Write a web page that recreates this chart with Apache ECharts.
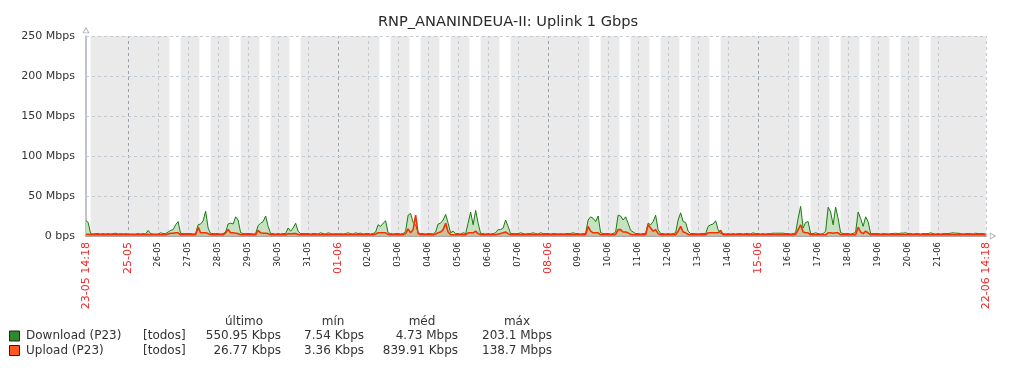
<!DOCTYPE html>
<html>
<head>
<meta charset="utf-8">
<script src="https://cdn.jsdelivr.net/npm/echarts@6/dist/echarts.min.js"></script>
<style>
html,body{margin:0;padding:0;background:#fff;}
#chart{width:1016px;height:368px;}
</style>
</head>
<body>
<div id="chart"></div>
<script>
// ---------- DATA ----------
const chartTitle = 'RNP_ANANINDEUA-II: Uplink 1 Gbps';
// day labels, one per calendar day from 23-05 to 22-06 (x unit = hours since 23-05 00:00)
const days = ['23-05','24-05','25-05','26-05','27-05','28-05','29-05','30-05','31-05',
  '01-06','02-06','03-06','04-06','05-06','06-06','07-06','08-06','09-06','10-06',
  '11-06','12-06','13-06','14-06','15-06','16-06','17-06','18-06','19-06','20-06',
  '21-06','22-06'];
const weekendDays = ['24-05','25-05','31-05','01-06','07-06','08-06','14-06','15-06','21-06','22-06'];
const redDays = ['25-05','01-06','08-06','15-06','22-06'];
const unlabeledDays = ['23-05','24-05','22-06'];
const startLabel = '23-05 14:18';
const endLabel = '22-06 14:18';
const startHour = 14.3;          // 23-05 14:18
const endHour = 30 * 24 + 14.3;  // 22-06 14:18
const workHours = [9, 18];
const yTicks = [0, 50, 100, 150, 200, 250];

// 2-hour samples (Mbps) starting 23-05 14:00
const downloadMbps = [
  19, 17, 3, 2.5, 3,                                   // 23-05 (14h..22h)
  3, 2.5, 3, 2.5, 3, 2.5, 3, 3.5, 2.5, 3, 2.5, 3,      // 24-05
  2.5, 2.5, 2.5, 2.5, 3, 2.5, 3, 2.5, 7, 3, 2.5, 2.5,  // 25-05
  2.5, 4, 3, 3, 5, 7, 8, 14, 18, 3, 3, 3,              // 26-05
  3, 3, 2.5, 3, 14, 15, 19, 31, 10, 3, 3, 3,           // 27-05
  3, 2.5, 3, 5, 15, 16, 15, 24, 20, 4, 3, 3,           // 28-05
  3, 3, 2.5, 3, 13, 16, 18, 25, 12, 3, 3, 2.5,         // 29-05
  3, 2.5, 3, 3, 10, 6, 10, 16, 6, 3, 3, 3,             // 30-05
  3, 2.5, 3, 3, 2.5, 4, 3, 2.5, 4, 3, 2.5, 3,          // 31-05
  2.5, 3, 2.5, 3, 4, 3, 2.5, 4, 3, 3.5, 2.5, 3,        // 01-06
  3, 2.5, 3, 5, 14, 12, 16, 19, 4, 3, 2.5, 3,          // 02-06
  3, 2.5, 3, 6, 26, 28, 17, 14, 4, 3, 3, 2.5,          // 03-06
  3, 3, 2.5, 5, 15, 16, 20, 27, 16, 4, 6, 3,           // 04-06
  3, 2.5, 4, 3, 16, 30, 14, 32, 16, 3, 3, 2.5,         // 05-06
  3, 2.5, 3, 4, 8, 8, 10, 20, 12, 3, 3, 3,             // 06-06
  3, 4, 3, 2.5, 3, 3, 4, 3, 2.5, 4, 3, 3,              // 07-06
  3, 2.5, 3, 3, 2.5, 3, 2.5, 3, 3, 3, 4, 3,            // 08-06
  3, 2.5, 3, 3, 20, 24, 22, 18, 25, 4, 3, 3,           // 09-06
  3, 2.5, 3, 5, 26, 25, 20, 24, 16, 7, 5, 3,           // 10-06
  3, 2.5, 3, 3, 16, 14, 18, 26, 8, 3, 3, 2.5,          // 11-06
  3, 2.5, 3, 4, 20, 29, 18, 17, 6, 3, 3, 3,            // 12-06
  2.5, 3, 3, 3, 12, 14, 15, 19, 8, 3, 3, 2.5,          // 13-06
  3, 2.5, 3, 2.5, 3, 3, 2.5, 3, 3, 2.5, 4, 3,          // 14-06
  3, 2.5, 3, 2.5, 3, 3, 3.5, 3.5, 3.5, 3.5, 3.5, 3,    // 15-06
  3, 2.5, 3, 4, 22, 37, 10, 17, 18, 3, 3, 4,           // 16-06
  3, 2.5, 3, 6, 36, 30, 14, 36, 22, 4, 3, 3,           // 17-06
  3, 2.5, 3, 5, 30, 22, 12, 24, 18, 3, 3, 3,           // 18-06
  3, 2.5, 3, 3, 2.5, 3, 3, 3.5, 3, 3.5, 3.5, 4,        // 19-06
  3, 3, 2.5, 3, 3, 2.5, 3, 3, 3, 4, 3, 2.5,            // 20-06
  3, 2.5, 3, 3, 3, 3.5, 4, 3.5, 3.5, 3, 2.5, 3,        // 21-06
  3, 3, 2.5, 3.5, 3, 3, 3, 2.5                         // 22-06 (0h..14h)
];
const uploadMbps = [
  2, 2, 1.5, 1.5, 1.5,                                             // 23-05
  1.5, 1.5, 1.5, 1.5, 1.5, 1.5, 1.5, 1.5, 1.5, 1.5, 1.5, 1.5,      // 24-05
  1.5, 1.5, 1.5, 1.5, 1.5, 1.5, 1.5, 1.5, 2, 1.5, 1.5, 1.5,        // 25-05
  1.5, 1.5, 1.5, 1.5, 2.5, 3.5, 3.5, 4, 4, 1.5, 1.5, 1.5,          // 26-05
  1.5, 1.5, 1.5, 1.5, 11, 4, 4, 4, 3, 1.5, 1.5, 1.5,               // 27-05
  1.5, 1.5, 1.5, 4, 8, 4, 4, 3.5, 3, 1.5, 1.5, 1.5,                // 28-05
  1.5, 1.5, 1.5, 1.5, 7, 4, 3.5, 3.5, 3, 1.5, 1.5, 1.5,            // 29-05
  1.5, 1.5, 1.5, 1.5, 3, 2.5, 3, 3, 2, 1.5, 1.5, 1.5,              // 30-05
  1.5, 1.5, 1.5, 1.5, 1.5, 1.5, 1.5, 1.5, 1.5, 1.5, 1.5, 1.5,      // 31-05
  1.5, 1.5, 1.5, 1.5, 1.5, 1.5, 1.5, 1.5, 1.5, 1.5, 1.5, 1.5,      // 01-06
  1.5, 1.5, 1.5, 2.5, 4, 4, 4, 4, 2, 1.5, 1.5, 1.5,                // 02-06
  1.5, 1.5, 1.5, 3, 9, 4, 8, 26, 3, 1.5, 1.5, 1.5,                 // 03-06
  1.5, 1.5, 1.5, 2.5, 4, 5, 8, 16, 5, 1.5, 1.5, 1.5,               // 04-06
  1.5, 1.5, 1.5, 1.5, 4, 4, 4, 6, 3, 1.5, 1.5, 1.5,                // 05-06
  1.5, 1.5, 1.5, 1.5, 2.5, 3, 4, 5, 3, 1.5, 1.5, 1.5,              // 06-06
  1.5, 1.5, 1.5, 1.5, 1.5, 1.5, 1.5, 1.5, 1.5, 1.5, 1.5, 1.5,      // 07-06
  1.5, 1.5, 1.5, 1.5, 1.5, 1.5, 1.5, 1.5, 1.5, 1.5, 1.5, 1.5,      // 08-06
  1.5, 1.5, 1.5, 1.5, 12, 6, 4, 4, 4, 1.5, 1.5, 1.5,               // 09-06
  1.5, 1.5, 1.5, 2, 8, 8, 5, 5, 4, 2, 1.5, 1.5,                    // 10-06
  1.5, 1.5, 1.5, 1.5, 14, 10, 6, 8, 3, 1.5, 1.5, 1.5,              // 11-06
  1.5, 1.5, 1.5, 1.5, 6, 12, 5, 4, 2, 1.5, 1.5, 1.5,               // 12-06
  1.5, 1.5, 1.5, 1.5, 4, 4, 4, 4, 4, 7, 1.5, 1.5,                  // 13-06
  1.5, 1.5, 1.5, 1.5, 1.5, 1.5, 1.5, 1.5, 1.5, 1.5, 1.5, 1.5,      // 14-06
  1.5, 1.5, 1.5, 1.5, 1.5, 1.5, 1.5, 1.5, 1.5, 1.5, 1.5, 1.5,      // 15-06
  1.5, 1.5, 1.5, 2, 8, 14, 5, 4, 4, 1.5, 1.5, 1.5,                 // 16-06
  1.5, 1.5, 1.5, 1.5, 4, 4, 3.5, 4, 4, 1.5, 1.5, 1.5,              // 17-06
  1.5, 1.5, 1.5, 1.5, 11, 5, 3, 6, 4, 1.5, 1.5, 1.5,               // 18-06
  1.5, 1.5, 1.5, 1.5, 1.5, 1.5, 1.5, 1.5, 1.5, 1.5, 1.5, 1.5,      // 19-06
  1.5, 1.5, 1.5, 1.5, 1.5, 1.5, 1.5, 1.5, 1.5, 1.5, 1.5, 1.5,      // 20-06
  1.5, 1.5, 1.5, 1.5, 1.5, 1.5, 1.5, 1.5, 1.5, 1.5, 1.5, 1.5,      // 21-06
  1.5, 1.5, 1.5, 1.5, 1.5, 1.5, 1.5, 1.5                           // 22-06
];
const sampleStartHour = 14;
const sampleStepHours = 2;

// legend table
const legendNames = ['Download (P23)', 'Upload (P23)'];
const legendScope = ['[todos]', '[todos]'];
const legendHeaders = ['último', 'mín', 'méd', 'máx'];
const legendLast = ['550.95 Kbps', '26.77 Kbps'];
const legendMin = ['7.54 Kbps', '3.36 Kbps'];
const legendAvg = ['4.73 Mbps', '839.91 Kbps'];
const legendMax = ['203.1 Mbps', '138.7 Mbps'];

// ---------- STYLE ----------
const FONT = 'DejaVu Sans';
const downColor = '#1a7c11';
const upColor = '#f63100';
const legendSwatch = ['#2e8a2c', '#ff5722'];
const gridColor = '#c3cad1';
const gridStrong = '#98a3ad';

// ---------- BUILD ----------
function toPoints(arr) {
  return arr.map((v, i) => {
    let x = sampleStartHour + i * sampleStepHours;
    x = Math.min(Math.max(x, startHour), endHour);
    return [x, v];
  });
}

// non-working (gray) periods
const workPeriods = [];
days.forEach((d, k) => {
  if (weekendDays.indexOf(d) >= 0) return;
  let s = k * 24 + workHours[0], e = k * 24 + workHours[1];
  s = Math.max(s, startHour); e = Math.min(e, endHour);
  if (e > s) workPeriods.push([s, e]);
});
const grayAreas = [];
let cur = startHour;
workPeriods.forEach(([s, e]) => {
  if (s > cur) grayAreas.push([{ xAxis: cur }, { xAxis: s }]);
  cur = e;
});
if (cur < endHour) grayAreas.push([{ xAxis: cur }, { xAxis: endHour }]);

// grid lines
const gridLines = [];
days.forEach((d, k) => {
  if (unlabeledDays.indexOf(d) >= 0) return;
  gridLines.push({ xAxis: k * 24, lineStyle: { color: redDays.indexOf(d) >= 0 ? gridStrong : gridColor } });
});
gridLines.push({ xAxis: endHour });
yTicks.forEach(v => { if (v > 0) gridLines.push({ yAxis: v }); });

const labelValues = [startHour];
days.forEach((d, k) => { if (unlabeledDays.indexOf(d) < 0) labelValues.push(k * 24); });
labelValues.push(endHour);

const arrowPath = 'path://M5,0 L10,9 L0,9 Z M5,2.6 L1.9,8 L8.1,8 Z';

const chart = echarts.init(document.getElementById('chart'), null, { renderer: 'canvas' });

const legendGraphics = [];
const hdrX = [244, 333, 422, 517];
const colRight = [281, 364, 458, 552];
legendHeaders.forEach((h, i) => legendGraphics.push({
  type: 'text', x: hdrX[i], y: 322,
  style: { text: h, fill: '#333', font: '12px "' + FONT + '"', align: 'center', verticalAlign: 'middle' }
}));
legendNames.forEach((n, r) => {
  const y = 336 + r * 14.5;
  legendGraphics.push({ type: 'rect', shape: { x: 9.5, y: y - 5, width: 10, height: 10 },
    style: { fill: legendSwatch[r], stroke: '#222', lineWidth: 1 } });
  legendGraphics.push({ type: 'text', x: 26, y: y,
    style: { text: n, fill: '#333', font: '12px "' + FONT + '"', verticalAlign: 'middle' } });
  legendGraphics.push({ type: 'text', x: 143, y: y,
    style: { text: legendScope[r], fill: '#333', font: '12px "' + FONT + '"', verticalAlign: 'middle' } });
  [legendLast, legendMin, legendAvg, legendMax].forEach((col, c) => legendGraphics.push({
    type: 'text', x: colRight[c], y: y,
    style: { text: col[r], fill: '#333', font: '12px "' + FONT + '"', align: 'right', verticalAlign: 'middle' }
  }));
});

chart.setOption({
  animation: false,
  backgroundColor: '#ffffff',
  textStyle: { fontFamily: FONT },
  title: {
    text: chartTitle, left: 'center', top: 10,
    textStyle: { fontFamily: FONT, fontSize: 14.6, fontWeight: 'normal', color: '#2a2a2a' }
  },
  grid: { left: 86, right: 30, top: 36, bottom: 132, containLabel: false },
  xAxis: {
    type: 'value', min: startHour, max: endHour,
    axisLine: { show: true, lineStyle: { color: '#a9a9a9', width: 2 },
      symbol: ['none', arrowPath], symbolSize: [7, 7], symbolOffset: [0, 7] },
    axisTick: { show: false },
    splitLine: { show: false },
    axisLabel: {
      customValues: labelValues,
      rotate: 90, margin: 6,
      formatter: function (v) {
        if (Math.abs(v - startHour) < 1e-6) return '{r|' + startLabel + '}';
        if (Math.abs(v - endHour) < 1e-6) return '{r|' + endLabel + '}';
        const d = days[Math.round(v / 24)];
        return redDays.indexOf(d) >= 0 ? '{r|' + d + '}' : '{b|' + d + '}';
      },
      rich: {
        r: { color: '#ee2a2a', fontSize: 11, fontFamily: FONT },
        b: { color: '#222', fontSize: 8.5, fontFamily: FONT }
      }
    }
  },
  yAxis: {
    type: 'value', min: 0, max: 250, interval: 50,
    axisLine: { show: true, lineStyle: { color: '#a8b0b8', width: 1.5 },
      symbol: ['none', arrowPath], symbolSize: [7, 7], symbolOffset: [0, 6] },
    axisTick: { show: false },
    splitLine: { show: false },
    axisLabel: {
      margin: 11, color: '#333', fontSize: 11, fontFamily: FONT,
      formatter: v => v === 0 ? '0 bps' : v + ' Mbps'
    }
  },
  series: [
    {
      name: 'bg', type: 'line', data: [], silent: true, z: 0,
      markArea: { silent: true, z: 0, itemStyle: { color: '#eaeaea' }, data: grayAreas },
      markLine: {
        silent: true, z: 1, symbol: ['none', 'none'], label: { show: false },
        lineStyle: { color: gridColor, type: [3, 3], width: 1 },
        data: gridLines
      }
    },
    {
      name: legendNames[0], type: 'line', data: toPoints(downloadMbps), z: 2,
      showSymbol: false, symbol: 'none',
      lineStyle: { color: downColor, width: 1 },
      areaStyle: { color: '#c0dfba', opacity: 0.9 }
    },
    {
      name: legendNames[1], type: 'line', data: toPoints(uploadMbps), z: 3,
      showSymbol: false, symbol: 'none',
      lineStyle: { color: upColor, width: 1.6 },
      areaStyle: { color: upColor, opacity: 0.2 }
    }
  ],
  graphic: legendGraphics
});
</script>
</body>
</html>
